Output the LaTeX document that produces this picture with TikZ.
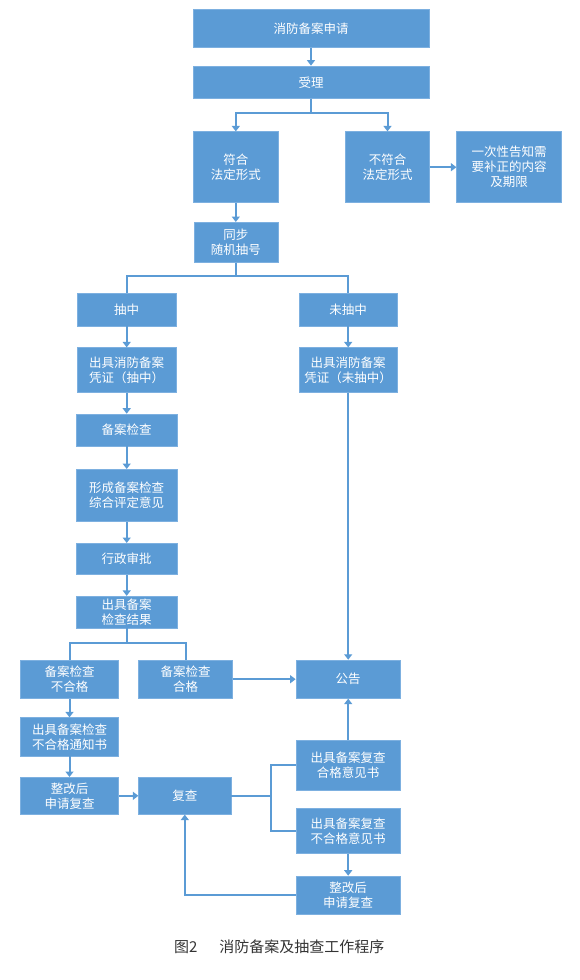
\documentclass[tikz,border=0pt]{standalone}
\usepackage{fontspec}
\newfontfamily\cjk{Noto Sans CJK SC}
\usetikzlibrary{positioning,arrows.meta}
\definecolor{boxblue}{HTML}{5B9BD5}
\definecolor{boxedge}{HTML}{7DB0E0}
\definecolor{captiongray}{HTML}{333333}
\begin{document}
\begin{tikzpicture}[x=1pt,y=-1pt,line width=2pt,>={Triangle[width=8pt,length=5.5pt]}]
\tikzstyle{bx} = [draw=boxedge,line width=0.6pt,fill=boxblue,text=white,inner sep=0pt,align=center,font=\cjk\fontsize{12.5}{15}\selectfont]
\tikzstyle{ln} = [draw=boxblue,line width=2pt]
\useasboundingbox (0,0) rectangle (580,980);
\node[bx,minimum width=236pt,minimum height=38.5pt] (apply) at (311,28.5) {消防备案申请};
\node[bx,minimum width=236pt,minimum height=32.7pt] (accept) at (311,82.3) {受理};
\node[bx,minimum width=85pt,minimum height=71pt] (conform) at (235.8,167.2) {符合\\法定形式};
\node[bx,minimum width=83.6pt,minimum height=71pt] (nonconform) at (387.5,167.2) {不符合\\法定形式};
\node[bx,minimum width=105pt,minimum height=71pt] (notify) at (509.2,167.2) {一次性告知需\\要补正的内容\\及期限};
\node[bx,minimum width=84pt,minimum height=40pt] (lottery) at (235.8,242.3) {同步\\随机抽号};
\node[bx,minimum width=98.7pt,minimum height=32.7pt] (drawn) at (126.7,309.7) {抽中};
\node[bx,minimum width=98.3pt,minimum height=32.7pt] (undrawn) at (348.2,309.7) {未抽中};
\node[bx,minimum width=98.7pt,minimum height=44.6pt] (certA) at (126.7,370) {出具消防备案\\凭证（抽中）};
\node[bx,minimum width=98.3pt,minimum height=44.6pt] (certB) at (348.2,370) {出具消防备案\\凭证（未抽中）};
\node[bx,minimum width=101pt,minimum height=32pt] (check) at (126.7,430) {备案检查};
\node[bx,minimum width=101pt,minimum height=52.4pt] (opinion) at (126.7,495.5) {形成备案检查\\综合评定意见};
\node[bx,minimum width=101pt,minimum height=31.4pt] (approve) at (126.7,559) {行政审批};
\node[bx,minimum width=101pt,minimum height=31.7pt] (result) at (126.7,612) {出具备案\\检查结果};
\node[bx,minimum width=97.6pt,minimum height=38.3pt] (fail) at (69.5,679.2) {备案检查\\不合格};
\node[bx,minimum width=93.6pt,minimum height=38.3pt] (pass) at (185.5,679.2) {备案检查\\合格};
\node[bx,minimum width=104.6pt,minimum height=38.3pt] (publish) at (348.2,679.2) {公告};
\node[bx,minimum width=97.6pt,minimum height=38.3pt] (failnote) at (69.5,736.8) {出具备案检查\\不合格通知书};
\node[bx,minimum width=97.6pt,minimum height=37pt] (rectifyA) at (69.5,795.8) {整改后\\申请复查};
\node[bx,minimum width=92.3pt,minimum height=37pt] (recheck) at (184.8,795.8) {复查};
\node[bx,minimum width=104.6pt,minimum height=49.3pt] (passop) at (348.2,765.3) {出具备案复查\\合格意见书};
\node[bx,minimum width=104.6pt,minimum height=45pt] (failop) at (348.2,830.8) {出具备案复查\\不合格意见书};
\node[bx,minimum width=104.6pt,minimum height=38pt] (rectifyB) at (348.2,895) {整改后\\申请复查};
% top part
\draw [ln,->] (apply) -- (accept);
\draw [ln,->] (accept.south) -- ++(0,14.3) -| (conform.north);
\draw [ln,->] (accept.south) -- ++(0,14.3) -| (nonconform.north);
\draw [ln,->] (nonconform) -- (notify);
\draw [ln,->] (conform) -- (lottery);
\draw [ln] (lottery.south) -- ++(0,13.4) -| (drawn.north);
\draw [ln] (lottery.south) -- ++(0,13.4) -| (undrawn.north);
% left column
\draw [ln,->] (drawn) -- (certA);
\draw [ln,->] (certA) -- (check);
\draw [ln,->] (check) -- (opinion);
\draw [ln,->] (opinion) -- (approve);
\draw [ln,->] (approve) -- (result);
\draw [ln] (result.south) -- ++(0,14.9) -| (fail.north);
\draw [ln] (result.south) -- ++(0,14.9) -| (pass.north);
\draw [ln,->] (undrawn) -- (certB);
\draw [ln,->] (certB) -- (publish);
\draw [ln,->] (pass) -- (publish);
% recheck loop
\draw [ln,->] (fail) -- (failnote);
\draw [ln,->] (failnote) -- (rectifyA);
\draw [ln,->] (rectifyA) -- (recheck);
\draw [ln] (recheck.east) -- ++(39.7,0) |- (passop.west);
\draw [ln] (recheck.east) -- ++(39.7,0) |- (failop.west);
\draw [ln,->] (passop) -- (publish);
\draw [ln,->] (failop) -- (rectifyB);
\draw [ln,->] (rectifyB.west) -| (recheck.south);
\node[text=captiongray,inner sep=0pt,font=\cjk\fontsize{15}{18}\selectfont] (caption) at (279.2,946.7) {图2\hspace{22pt}消防备案及抽查工作程序};
\end{tikzpicture}
\end{document}
